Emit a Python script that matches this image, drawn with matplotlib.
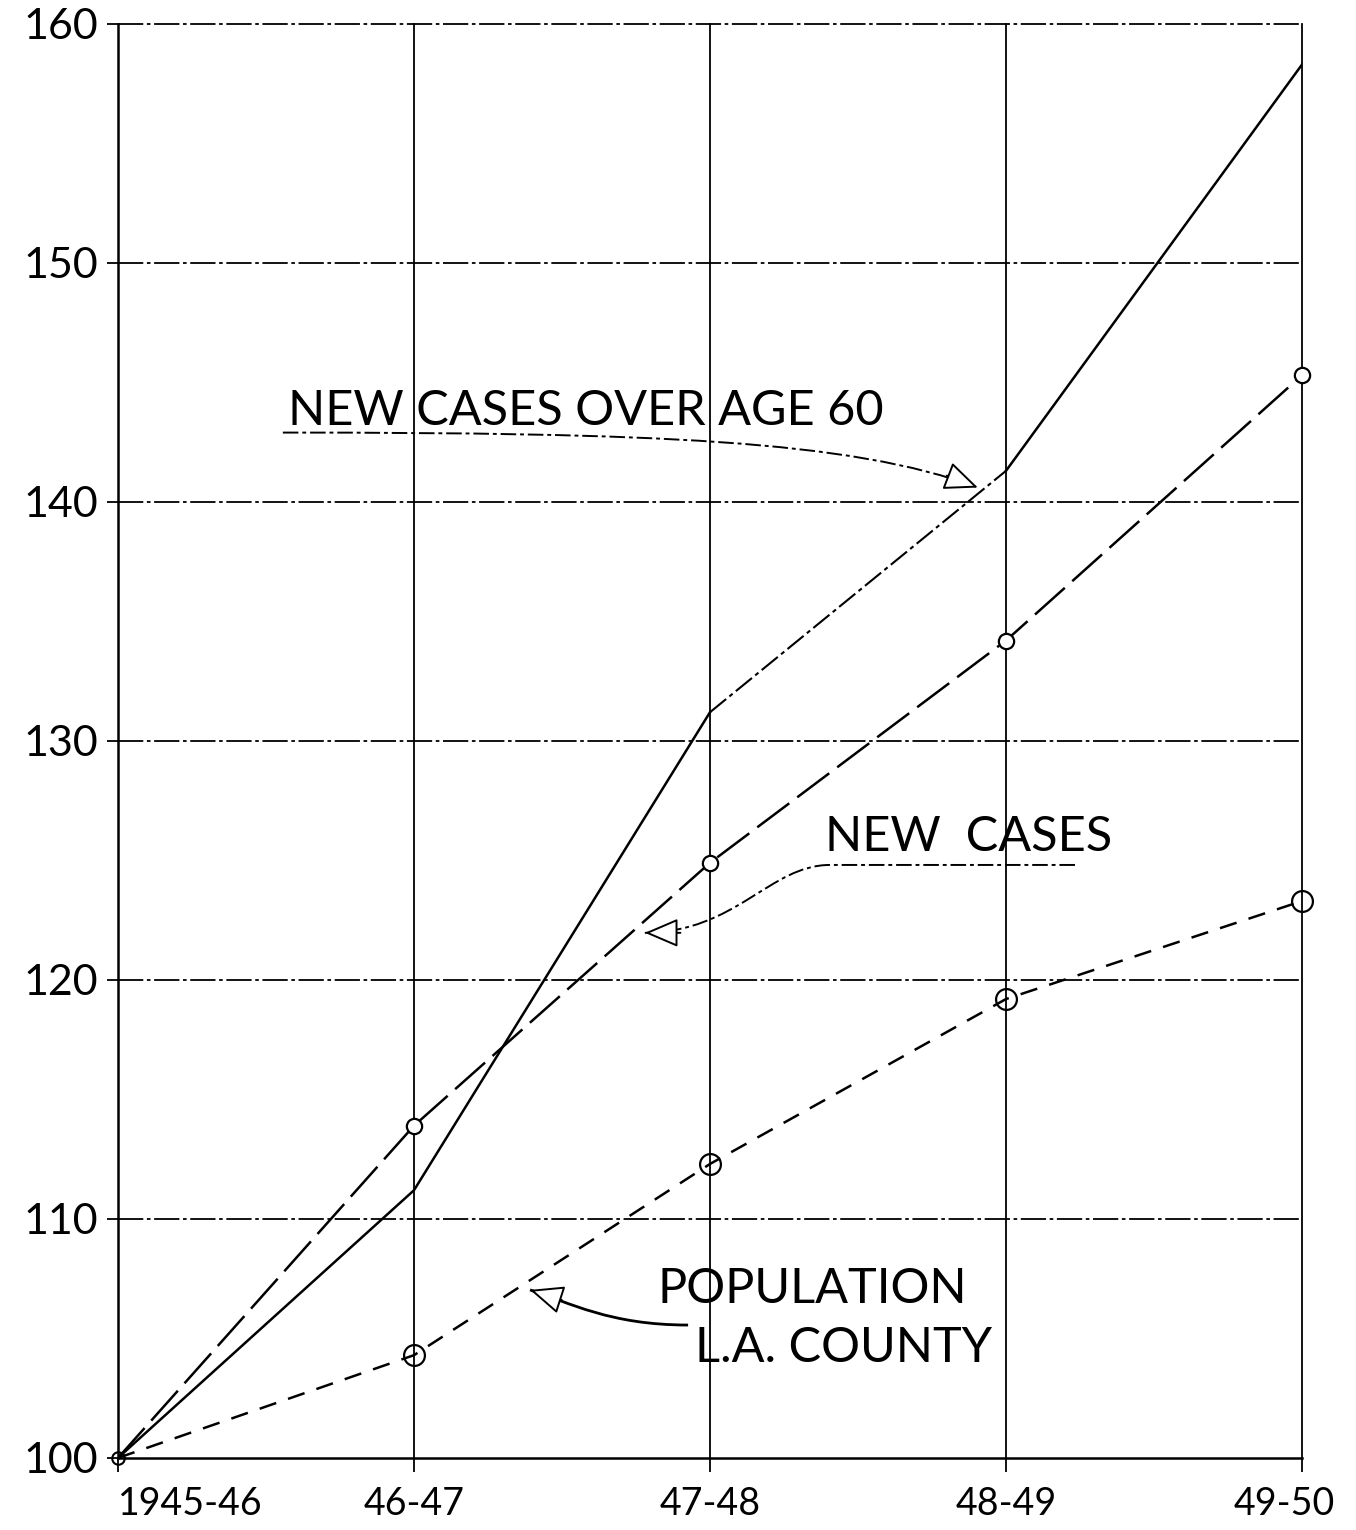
import matplotlib
matplotlib.use('Agg')
from matplotlib import pyplot as plt
from matplotlib.path import Path
from matplotlib.patches import PathPatch
import matplotlib.transforms as mtransforms
import numpy as np

years = ['1945-46', '46-47', '47-48', '48-49', '49-50']
age60 = [100, 111.2, 131.2, 141.3, 158.3]
new_cases = [100, 113.9, 124.9, 134.2, 145.3]
population = [100, 104.3, 112.3, 119.2, 123.3]
yticks = [100, 110, 120, 130, 140, 150, 160]

plt.rcParams['font.family'] = ['Lato', 'DejaVu Sans']

fig = plt.figure(figsize=(13.56, 15.30), dpi=100)
ax = fig.add_axes([0.0870, 0.0471, 0.8732, 0.9373])
x = np.arange(len(years))

ax.set_xlim(0, 4)
ax.set_ylim(100, 160)

# grid drawn by hand so the horizontal rules can be dash-dot
for v in yticks[1:]:
    ax.axhline(v, color='black', lw=1.3, ls=(0, (14, 2, 2, 2)), zorder=1,
               clip_on=False)
for i in x[1:]:
    ax.axvline(i, color='black', lw=1.3, zorder=1, clip_on=False)
for s in ['top', 'right']:
    ax.spines[s].set_visible(False)
for s in ['left', 'bottom']:
    ax.spines[s].set_linewidth(1.8)

# new cases over age 60: solid, faint dash-dot stretch in the middle
ax.plot(x[:3], age60[:3], color='black', lw=1.8, zorder=3)
ax.plot(x[2:4], age60[2:4], color='black', lw=1.5,
        ls=(0, (10, 2, 2, 2)), zorder=3)
ax.plot(x[3:], age60[3:], color='black', lw=1.8, zorder=3)

# new cases: long dashes with open circles
ax.plot(x, new_cases, color='black', lw=1.8, ls=(0, (16, 4)), zorder=3)
ax.plot(x[1:], new_cases[1:], ls='none', marker='o', ms=11, mfc='white',
        mec='black', mew=1.6, zorder=4, clip_on=False)

# population: short dashes with open circles
ax.plot(x, population, color='black', lw=1.8, ls=(0, (7, 5)), zorder=3)
ax.plot(x[1:], population[1:], ls='none', marker='o', ms=15,
        mfc='none', mec='black', mew=1.6, zorder=4, clip_on=False)
ax.plot(x[0], population[0], ls='none', marker='o', ms=9, mfc='none',
        mec='black', mew=1.5, zorder=4, clip_on=False)

ax.set_xticks(x)
ax.set_xticklabels(years)
ax.set_yticks(yticks)
ax.tick_params(axis='x', length=10, width=1.3, pad=10, labelsize=27)
ax.tick_params(axis='y', length=8, width=1.3, pad=6, labelsize=31)
xl = ax.get_xticklabels()
xl[0].set_ha('left')
xl[-1].set_transform(xl[-1].get_transform() +
                     mtransforms.ScaledTranslation(-0.18, 0,
                                                   fig.dpi_scale_trans))

txt = dict(fontsize=35, color='black')
ax.text(0.574, 143.2, 'NEW CASES OVER AGE 60', ha='left', va='baseline', **txt)
ax.text(2.389, 125.4, 'NEW  CASES', ha='left', va='baseline', **txt)
ax.text(1.824, 106.5, 'POPULATION', ha='left', va='baseline', **txt)
ax.text(1.949, 104.0, 'L.A. COUNTY', ha='left', va='baseline', **txt)


def curve(verts, codes, ls, lw):
    ax.add_patch(PathPatch(Path(verts, codes), fill=False, ec='black',
                           lw=lw, ls=ls, zorder=5))


def head(start, tip):
    ax.annotate('', xy=tip, xytext=start, zorder=6,
                arrowprops=dict(arrowstyle='-|>,head_length=0.7,head_width=0.3',
                                mutation_scale=30, fc='white', ec='black',
                                lw=1.4, shrinkA=0, shrinkB=0))


C4 = Path.CURVE4
# leader for "new cases over age 60"
curve([(0.557, 142.9), (1.797, 142.9), (2.473, 142.6), (2.905, 140.6)],
      [Path.MOVETO, C4, C4, C4], (0, (8, 2, 2, 2)), 1.4)
head((2.80, 141.1), (2.905, 140.6))

# leader for "new cases"
curve([(3.233, 124.81), (2.405, 124.81), (2.203, 124.81), (2.088, 122.0),
       (1.780, 121.97)],
      [Path.MOVETO, Path.LINETO, C4, C4, C4], (0, (8, 2, 2, 2)), 1.4)
head((1.90, 121.97), (1.780, 121.97))

# leader for population
curve([(1.926, 105.56), (1.662, 105.56), (1.527, 106.49), (1.392, 107.03)],
      [Path.MOVETO, C4, C4, C4], '-', 2.0)
head((1.50, 106.6), (1.392, 107.03))

fig.savefig('out.png', dpi=100)
